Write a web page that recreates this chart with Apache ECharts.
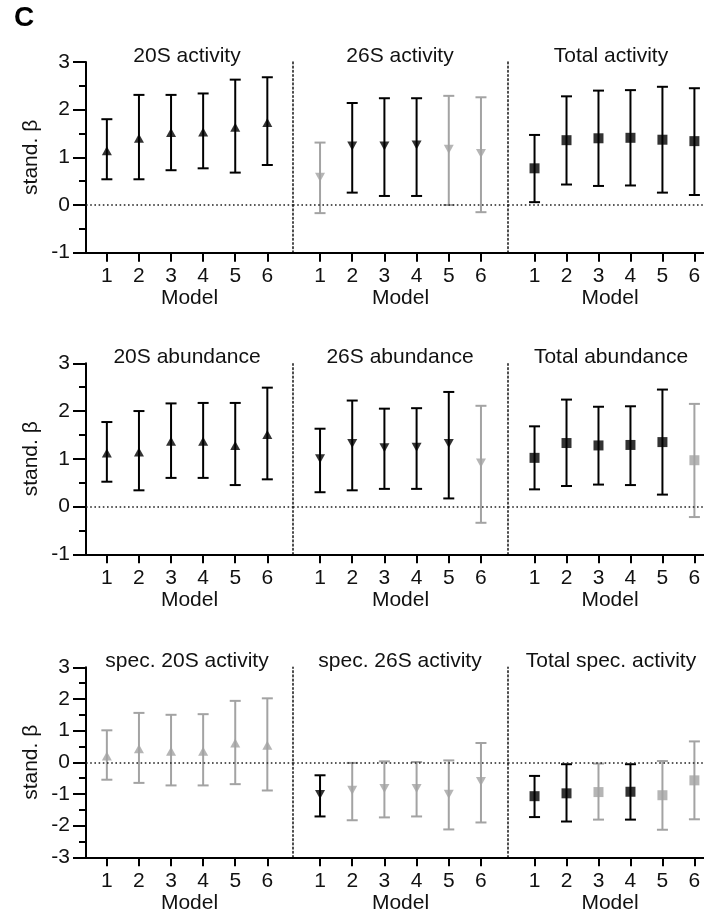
<!DOCTYPE html>
<html>
<head>
<meta charset="utf-8">
<script src="https://cdn.jsdelivr.net/npm/echarts@6/dist/echarts.min.js"></script>
<style>
  html, body { margin: 0; padding: 0; background: #fff; }
  #main { width: 704px; height: 916px; }
</style>
</head>
<body>
<div id="main"></div>
<script>
var models = [1, 2, 3, 4, 5, 6];
var yRangeMain = [-1, 3];
var yRangeSpec = [-3, 3];

// row 1
var act20Est = [1.14, 1.40, 1.52, 1.53, 1.63, 1.73];
var act20Lo  = [0.54, 0.54, 0.73, 0.77, 0.68, 0.84];
var act20Hi  = [1.80, 2.31, 2.31, 2.34, 2.63, 2.68];
var act20Sig = [1, 1, 1, 1, 1, 1];

var act26Est = [0.58, 1.24, 1.24, 1.26, 1.17, 1.08];
var act26Lo  = [-0.17, 0.26, 0.19, 0.19, 0.00, -0.15];
var act26Hi  = [1.31, 2.14, 2.24, 2.24, 2.29, 2.26];
var act26Sig = [0, 1, 1, 1, 0, 0];

var actTotEst = [0.77, 1.36, 1.40, 1.41, 1.37, 1.34];
var actTotLo  = [0.06, 0.43, 0.40, 0.41, 0.26, 0.21];
var actTotHi  = [1.47, 2.28, 2.40, 2.41, 2.48, 2.45];
var actTotSig = [1, 1, 1, 1, 1, 1];

// row 2
var abu20Est = [1.12, 1.14, 1.37, 1.37, 1.28, 1.51];
var abu20Lo  = [0.52, 0.34, 0.60, 0.60, 0.45, 0.57];
var abu20Hi  = [1.77, 2.00, 2.16, 2.17, 2.17, 2.49];
var abu20Sig = [1, 1, 1, 1, 1, 1];

var abu26Est = [1.00, 1.32, 1.23, 1.24, 1.32, 0.91];
var abu26Lo  = [0.30, 0.34, 0.37, 0.37, 0.17, -0.34];
var abu26Hi  = [1.63, 2.22, 2.05, 2.06, 2.40, 2.11];
var abu26Sig = [1, 1, 1, 1, 1, 0];

var abuTotEst = [1.02, 1.33, 1.28, 1.29, 1.35, 0.97];
var abuTotLo  = [0.36, 0.43, 0.46, 0.45, 0.25, -0.22];
var abuTotHi  = [1.68, 2.24, 2.09, 2.10, 2.45, 2.15];
var abuTotSig = [1, 1, 1, 1, 1, 0];

// row 3
var spec20Est = [0.20, 0.43, 0.35, 0.35, 0.61, 0.54];
var spec20Lo  = [-0.55, -0.65, -0.73, -0.73, -0.69, -0.89];
var spec20Hi  = [1.01, 1.56, 1.50, 1.52, 1.94, 2.02];
var spec20Sig = [0, 0, 0, 0, 0, 0];

var spec26Est = [-1.02, -0.88, -0.83, -0.83, -1.01, -0.61];
var spec26Lo  = [-1.71, -1.83, -1.74, -1.71, -2.12, -1.90];
var spec26Hi  = [-0.41, -0.02, 0.03, 0.01, 0.06, 0.61];
var spec26Sig = [1, 0, 0, 0, 0, 0];

var specTotEst = [-1.07, -0.98, -0.94, -0.93, -1.04, -0.57];
var specTotLo  = [-1.73, -1.87, -1.81, -1.81, -2.13, -1.80];
var specTotHi  = [-0.43, -0.06, -0.04, -0.06, 0.04, 0.66];
var specTotSig = [1, 1, 0, 1, 0, 0];

var BLACK = '#000000';
var GRAY = '#a3a3a3';
var FONT = 'Liberation Sans, Arial, sans-serif';

var rows = [
  { top: 62, height: 190.7, range: yRangeMain, panels: [
    { title: '20S activity', est: act20Est, lo: act20Lo, hi: act20Hi, sig: act20Sig, mark: 'up' },
    { title: '26S activity', est: act26Est, lo: act26Lo, hi: act26Hi, sig: act26Sig, mark: 'down' },
    { title: 'Total activity', est: actTotEst, lo: actTotLo, hi: actTotHi, sig: actTotSig, mark: 'sq' }
  ]},
  { top: 363.3, height: 191, range: yRangeMain, panels: [
    { title: '20S abundance', est: abu20Est, lo: abu20Lo, hi: abu20Hi, sig: abu20Sig, mark: 'up' },
    { title: '26S abundance', est: abu26Est, lo: abu26Lo, hi: abu26Hi, sig: abu26Sig, mark: 'down' },
    { title: 'Total abundance', est: abuTotEst, lo: abuTotLo, hi: abuTotHi, sig: abuTotSig, mark: 'sq' }
  ]},
  { top: 667.3, height: 190, range: yRangeSpec, panels: [
    { title: 'spec. 20S activity', est: spec20Est, lo: spec20Lo, hi: spec20Hi, sig: spec20Sig, mark: 'up' },
    { title: 'spec. 26S activity', est: spec26Est, lo: spec26Lo, hi: spec26Hi, sig: spec26Sig, mark: 'down' },
    { title: 'Total spec. activity', est: specTotEst, lo: specTotLo, hi: specTotHi, sig: specTotSig, mark: 'sq' }
  ]}
];

// panel geometry (px) and x extents (model units)
var panelLeft = [86, 293, 508];
var panelWidth = [207, 215, 196];
var xMin = [0.35, 0.16, 0.17];
var xMax = [6.8, 6.84, 6.3];
var titleX = [187, 400, 611];

function renderErrorBar(params, api) {
  var x = api.value(0);
  var lo = api.coord([x, api.value(1)]);
  var hi = api.coord([x, api.value(2)]);
  var color = api.value(3) ? BLACK : GRAY;
  var cap = 5.5;
  var st = { stroke: color, lineWidth: 2, fill: null };
  return {
    type: 'group',
    children: [
      { type: 'line', shape: { x1: lo[0], y1: lo[1], x2: hi[0], y2: hi[1] }, style: st },
      { type: 'line', shape: { x1: hi[0] - cap, y1: hi[1], x2: hi[0] + cap, y2: hi[1] }, style: st },
      { type: 'line', shape: { x1: lo[0] - cap, y1: lo[1], x2: lo[0] + cap, y2: lo[1] }, style: st }
    ]
  };
}

var grids = [], xAxes = [], yAxes = [], series = [];
var graphics = [
  { type: 'text', x: 14, y: 4, style: { text: 'C', font: 'bold 28px ' + FONT, fill: '#000', textAlign: 'left', textVerticalAlign: 'top', align: 'left', verticalAlign: 'top' } }
];

rows.forEach(function (row, r) {
  row.panels.forEach(function (pan, p) {
    var g = r * 3 + p;
    grids.push({ left: panelLeft[p], top: row.top, width: panelWidth[p], height: row.height });

    xAxes.push({
      type: 'value', gridIndex: g, min: xMin[p], max: xMax[p],
      axisLine: { show: true, onZero: false, lineStyle: { color: '#000', width: 2 } },
      axisTick: { show: true, customValues: models, length: 9, lineStyle: { color: '#000', width: 2 } },
      axisLabel: { customValues: models, fontSize: 21, color: '#111', margin: 13, fontFamily: FONT },
      splitLine: { show: false },
      name: 'Model', nameLocation: 'middle', nameGap: 35,
      nameTextStyle: { fontSize: 21, color: '#111', fontFamily: FONT, padding: p === 2 ? [0, 0, 0, 8] : 0 }
    });

    if (p === 0) {
      yAxes.push({
        type: 'value', gridIndex: g, min: row.range[0], max: row.range[1], interval: 1,
        axisLine: { show: true, onZero: false, lineStyle: { color: '#000', width: 2 } },
        axisTick: { show: true, length: 13, lineStyle: { color: '#000', width: 2 } },
        minorTick: { show: true, splitNumber: 2, length: 7, lineStyle: { color: '#000', width: 2 } },
        axisLabel: { fontSize: 21, color: '#111', margin: 16, fontFamily: FONT },
        splitLine: { show: false },
        name: 'stand. \u03b2', nameLocation: 'middle', nameGap: 44, nameRotate: 90,
        nameTextStyle: { fontSize: 21, color: '#111', fontFamily: FONT }
      });
    } else {
      yAxes.push({
        type: 'value', gridIndex: g, min: row.range[0], max: row.range[1], interval: 1,
        axisLine: { show: true, onZero: false, lineStyle: { color: '#222', width: 1.6, type: [1.6, 2.6] } },
        axisTick: { show: false }, axisLabel: { show: false }, splitLine: { show: false }
      });
    }

    graphics.push({
      type: 'text', x: titleX[p], y: row.top - 6,
      style: { text: pan.title, font: '21px ' + FONT, fill: '#111', textAlign: 'center', textVerticalAlign: 'middle', align: 'center', verticalAlign: 'middle' }
    });

    series.push({
      type: 'custom', xAxisIndex: g, yAxisIndex: g,
      renderItem: renderErrorBar,
      encode: { x: 0, y: [1, 2] },
      data: models.map(function (m, i) { return [m, pan.lo[i], pan.hi[i], pan.sig[i]]; }),
      z: 2, silent: true
    });

    series.push({
      type: 'scatter', xAxisIndex: g, yAxisIndex: g,
      symbol: pan.mark === 'sq' ? 'rect' : 'triangle',
      symbolRotate: pan.mark === 'down' ? 180 : 0,
      symbolSize: pan.mark === 'sq' ? 10 : [10, 9],
      data: models.map(function (m, i) {
        return { value: [m, pan.est[i]], itemStyle: { color: pan.sig[i] ? BLACK : GRAY } };
      }),
      z: 3, silent: true,
      markLine: {
        silent: true, symbol: 'none', label: { show: false },
        lineStyle: { color: '#222', width: 1.6, type: [1.6, 2.6] },
        data: [{ yAxis: 0 }]
      }
    });
  });
});

var chart = echarts.init(document.getElementById('main'));
chart.setOption({
  animation: false,
  backgroundColor: '#fff',
  textStyle: { fontFamily: FONT },
  grid: grids,
  xAxis: xAxes,
  yAxis: yAxes,
  series: series,
  graphic: graphics
});
</script>
</body>
</html>
